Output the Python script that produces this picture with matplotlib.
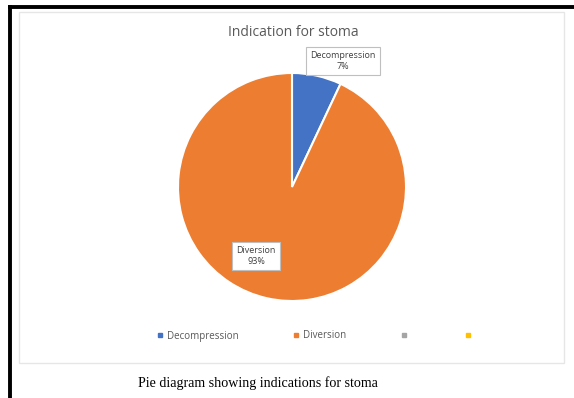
import matplotlib.pyplot as plt
from matplotlib.lines import Line2D
from matplotlib.patches import Rectangle

categories = ['Decompression', 'Diversion']
values = [7, 93]
legend_labels = ['Decompression', 'Diversion', '', '']
colors = ['#4472C4', '#ED7D31', '#A5A5A5', '#FFC000']

W, H = 574, 398
fig = plt.figure(figsize=(W / 100, H / 100), dpi=100)
fig.patch.set_facecolor('white')

# outer black frame (top and left edges)
fig.add_artist(Line2D([9.5 / W, 1], [1 - 6.5 / H, 1 - 6.5 / H], color='black', lw=2.8))
fig.add_artist(Line2D([9.5 / W, 9.5 / W], [0, 1 - 6.5 / H], color='black', lw=2.8))

# light chart area border
fig.add_artist(Rectangle((19 / W, 1 - 363 / H), (564 - 19) / W, (363 - 12) / H,
                         transform=fig.transFigure, fill=False, ec='#E6E6E6', lw=1))

# pie axes: center (292,187), radius 114 px
cx, cy, r = 292, 187, 114
ax = fig.add_axes([(cx - r) / W, (H - cy - r) / H, 2 * r / W, 2 * r / H])
ax.pie(values, colors=colors[:2], startangle=90, counterclock=False,
       wedgeprops=dict(edgecolor='white', linewidth=1.5))
ax.set_xlim(-1, 1)
ax.set_ylim(-1, 1)

box = dict(boxstyle='square,pad=0.45', fc='white', ec='#BFBFBF', lw=0.8)
label_pos = [(343, 61), (256, 256)]
for cat, v, (px, py) in zip(categories, values, label_pos):
    ax.text((px - cx) / r, (cy - py) / r, f'{cat}\n{v}%', ha='center', va='center',
            fontsize=6.5, color='#404040', family='Open Sans', bbox=box,
            linespacing=1.3, clip_on=False)

fig.text(293 / W, 1 - 33 / H, 'Indication for stoma', ha='center', va='center',
         fontsize=10, color='#595959', family='Open Sans')

handles = [Line2D([], [], marker='s', ls='none', color=c, markersize=3.5) for c in colors]
fig.legend(handles, legend_labels, loc='center', bbox_to_anchor=(316 / W, 1 - 336 / H),
           ncol=4, frameon=False, handletextpad=0.4, columnspacing=5.6,
           handlelength=0.6, prop={'family': 'Open Sans', 'size': 7},
           labelcolor='#595959')

fig.text(258 / W, 1 - 383 / H, 'Pie diagram showing indications for stoma',
         ha='center', va='center', fontsize=10.1, family='Liberation Serif', color='black')

fig.savefig('out.png', dpi=100)
